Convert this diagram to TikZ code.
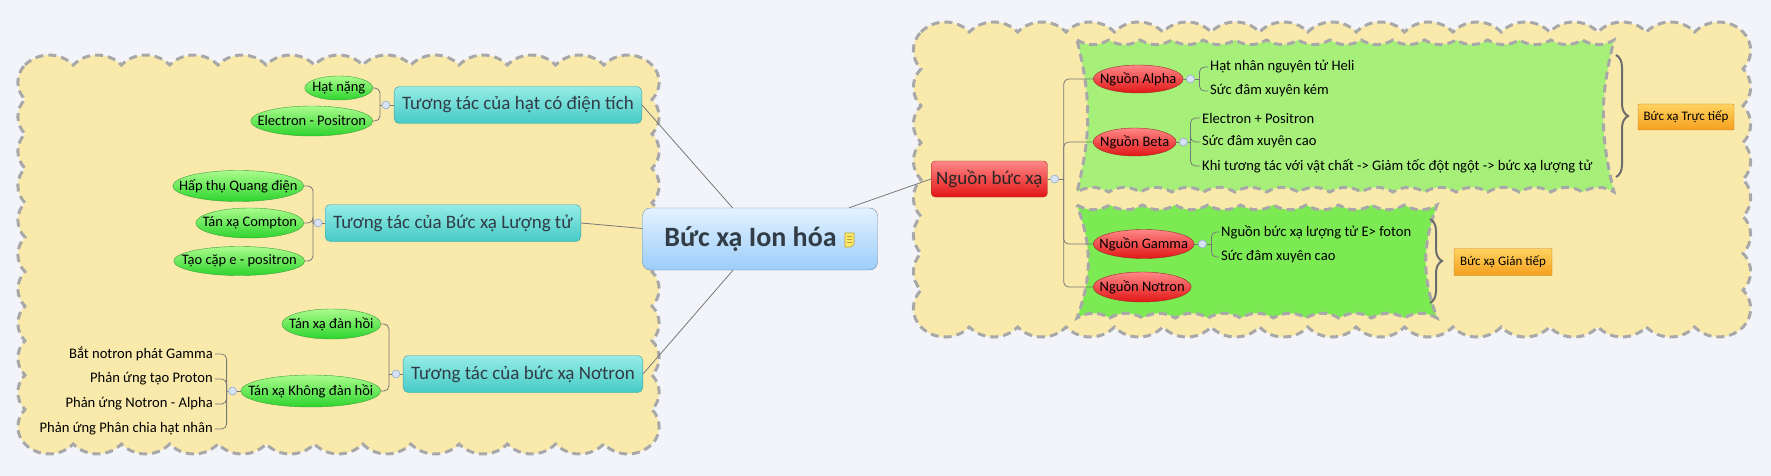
\documentclass[tikz,border=0pt]{standalone}
\usepackage{fontspec}
\setmainfont{Carlito}
\usetikzlibrary{shapes.geometric,decorations.pathreplacing}

\definecolor{bgcol}{RGB}{243,244,249}
\definecolor{sandfill}{RGB}{249,234,172}
\definecolor{dashgray}{RGB}{168,168,168}
\definecolor{greenA}{RGB}{166,240,122}
\definecolor{greenB}{RGB}{124,234,82}
\definecolor{linegray}{RGB}{120,120,120}
\definecolor{tealtop}{RGB}{150,236,230}
\definecolor{tealbot}{RGB}{70,202,198}
\definecolor{tealline}{RGB}{70,160,160}
\definecolor{redtop}{RGB}{255,135,135}
\definecolor{redbot}{RGB}{226,22,22}
\definecolor{redline}{RGB}{160,40,40}
\definecolor{ovaltop}{RGB}{170,252,140}
\definecolor{ovalbot}{RGB}{45,212,45}
\definecolor{ovalline}{RGB}{60,160,60}
\definecolor{orangetop}{RGB}{255,210,95}
\definecolor{orangebot}{RGB}{245,160,30}
\definecolor{orangeline}{RGB}{190,130,40}
\definecolor{roottop}{RGB}{228,242,255}
\definecolor{rootbot}{RGB}{155,205,250}
\definecolor{rootline}{RGB}{110,140,170}
\definecolor{inkdark}{RGB}{50,60,70}
\definecolor{btnfill}{RGB}{215,226,245}
\definecolor{btnline}{RGB}{150,170,210}
\definecolor{notefill}{RGB}{252,234,110}
\definecolor{noteline}{RGB}{190,160,40}

%% scalloped boundary: [style]{x1}{y1}{x2}{y2}{bumps across}{bumps down}{bend top/bottom}{bend sides}
\newcommand{\cloudbox}[9][]{%
  \pgfmathsetmacro\cbw{(#4-#2)/#6}%
  \pgfmathsetmacro\cbh{(#5-#3)/#7}%
  \draw[#1] (#2,#3)
    \foreach \i in {1,...,#6} { to[bend left=#8] ({#2+\i*\cbw},#3) }
    \foreach \i in {1,...,#7} { to[bend left=#9] (#4,{#3+\i*\cbh}) }
    \foreach \i in {1,...,#6} { to[bend left=#8] ({#4-\i*\cbw},#5) }
    \foreach \i in {1,...,#7} { to[bend left=#9] (#2,{#5-\i*\cbh}) }
    -- cycle;}

\begin{document}
\begin{tikzpicture}[x=1pt,y=-1pt,
        conn/.style={draw=linegray,line width=0.8pt},
        sandcloud/.style={fill=sandfill,draw=dashgray,line width=3pt,dash pattern=on 8pt off 5pt},
        tealbox/.style={draw=tealline,rounded corners=5pt,top color=tealtop,bottom color=tealbot,
            inner xsep=8pt,minimum height=37pt,text=inkdark,font=\fontsize{19}{22}\selectfont},
        redbox/.style={draw=redline,rounded corners=4pt,top color=redtop,bottom color=redbot,
            inner xsep=5pt,minimum height=36pt,text=black!85,font=\fontsize{19}{22}\selectfont},
        greenoval/.style={ellipse,draw=ovalline,top color=ovaltop,bottom color=ovalbot,inner sep=0pt,
            font=\fontsize{14.5}{16}\selectfont,
            execute at begin node={\hbox to 0pt\bgroup\hss},execute at end node={\hss\egroup}},
        redoval/.style={greenoval,draw=redline,top color=redtop,bottom color=redbot},
        orangetag/.style={draw=orangeline,rounded corners=1pt,top color=orangetop,bottom color=orangebot,
            inner sep=0pt,font=\fontsize{13}{15}\selectfont},
        leaftext/.style={inner sep=2pt,font=\fontsize{14.6}{16}\selectfont},
        togglebtn/.style={circle,draw=btnline,fill=btnfill,line width=0.6pt,inner sep=0pt,minimum size=8pt},
        bracegray/.style={draw=gray!85!black,line width=2pt,decorate,decoration={brace,amplitude=12pt}}]
        %% Background
        \fill[bgcol] (0,0) rectangle (1771,476);
        \useasboundingbox (0,0) rectangle (1771,476);
        %% Boundaries
        \cloudbox[sandcloud]{25}{65}{652}{444}{13}{11}{45}{45}
        \cloudbox[sandcloud]{921}{32}{1743}{327}{17}{8}{45}{45}
        \cloudbox[sandcloud,fill=greenA]{1077}{40}{1614}{192}{17}{1}{-30}{-14}
        \cloudbox[sandcloud,fill=greenB]{1077}{205}{1437}{318}{11}{1}{-30}{-20}
        \draw[bracegray] (1616,55) -- (1616,177);
        \draw[bracegray] (1430,219) -- (1430,303);
        %% Central topic
        \node[draw=rootline,rounded corners=8pt,top color=roottop,bottom color=rootbot,
            minimum width=235pt,minimum height=62pt,text=inkdark,
            font=\fontsize{28}{32}\selectfont\bfseries] (root) at (760,239) {Bức xạ Ion hóa\hspace{19pt}\mbox{}};
        \draw[fill=notefill,draw=noteline,line width=0.6pt] (845,233) -- (854,233) -- (854,244) -- (851,247) -- (845,247) -- cycle;
        \foreach \y in {236.5,239.5,242.5}
            \draw[noteline,line width=0.6pt] (847,\y) -- (852,\y);
        %% Left branches
        \node[tealbox,anchor=east] (hat) at (642,105) {Tương tác của hạt có điện tích};
        \node[tealbox,anchor=east] (luongtu) at (581,223) {Tương tác của Bức xạ Lượng tử};
        \node[tealbox,anchor=east] (notron) at (643,374) {Tương tác của bức xạ Nơtron};
        \draw[conn] (hat.east) -- (root);
        \draw[conn] (luongtu.east) -- (root);
        \draw[conn] (notron.east) -- (root);
        %% Charged particles
        \node[greenoval,minimum width=68pt,minimum height=24pt,anchor=east] (nang) at (373,88) {Hạt nặng};
        \node[greenoval,minimum width=122pt,minimum height=30pt,anchor=east] (electron) at (373,121) {Electron - Positron};
        \node[togglebtn] (mhat) at ([xshift=-8pt]hat.west) {};
        \coordinate (shat) at ([xshift=-14pt]hat.west);
        \draw[conn] (hat.west) -- (mhat) -- (shat);
        \draw[conn,rounded corners=5pt] (shat) |- (nang.east);
        \draw[conn,rounded corners=5pt] (shat) |- (electron.east);
        %% Quantum radiation
        \node[greenoval,minimum width=131pt,minimum height=31pt,anchor=east] (quangdien) at (304,186) {Hấp thụ Quang điện};
        \node[greenoval,minimum width=108pt,minimum height=30pt,anchor=east] (compton) at (304,223) {Tán xạ Compton};
        \node[greenoval,minimum width=131pt,minimum height=29pt,anchor=east] (capcap) at (305,261) {Tạo cặp e - positron};
        \node[togglebtn] (mluongtu) at ([xshift=-7pt]luongtu.west) {};
        \coordinate (sluongtu) at ([xshift=-12pt]luongtu.west);
        \draw[conn] (luongtu.west) -- (mluongtu) -- (sluongtu);
        \draw[conn,rounded corners=5pt] (sluongtu) |- (quangdien.east);
        \draw[conn,rounded corners=5pt] (sluongtu) |- (compton.east);
        \draw[conn,rounded corners=5pt] (sluongtu) |- (capcap.east);
        %% Neutron radiation
        \node[greenoval,minimum width=99pt,minimum height=30pt,anchor=east] (danhoi) at (381,324) {Tán xạ đàn hồi};
        \node[greenoval,minimum width=140pt,minimum height=32pt,anchor=east] (khongdh) at (381,391) {Tán xạ Không đàn hồi};
        \node[togglebtn] (mnotron) at ([xshift=-7pt]notron.west) {};
        \coordinate (snotron) at ([xshift=-14pt]notron.west);
        \draw[conn] (notron.west) -- (mnotron) -- (snotron);
        \draw[conn,rounded corners=5pt] (snotron) |- (danhoi.east);
        \draw[conn,rounded corners=5pt] (snotron) |- (khongdh.east);
        \node[leaftext,anchor=east] (batnotron) at (215,354) {Bắt notron phát Gamma};
        \node[leaftext,anchor=east] (proton) at (215,379) {Phản ứng tạo Proton};
        \node[leaftext,anchor=east] (nalpha) at (215,404) {Phản ứng Notron - Alpha};
        \node[leaftext,anchor=east] (phanchia) at (215,429) {Phản ứng Phân chia hạt nhân};
        \node[togglebtn] (mkhongdh) at ([xshift=-8pt]khongdh.west) {};
        \coordinate (skhongdh) at ([xshift=-14pt]khongdh.west);
        \draw[conn] (khongdh.west) -- (mkhongdh) -- (skhongdh);
        \foreach \leaf in {batnotron,proton,nalpha,phanchia}
            \draw[conn,rounded corners=5pt] (skhongdh) |- (\leaf.east);
        %% Right branch
        \node[redbox,anchor=west] (nguon) at (931,179) {Nguồn bức xạ};
        \draw[conn] (root) -- (nguon.west);
        \node[redoval,minimum width=90pt,minimum height=28pt,anchor=west] (alpha) at (1093,79) {Nguồn Alpha};
        \node[redoval,minimum width=83pt,minimum height=28pt,anchor=west] (beta) at (1093,142) {Nguồn Beta};
        \node[redoval,minimum width=101pt,minimum height=29pt,anchor=west] (gamma) at (1093,244) {Nguồn Gamma};
        \node[redoval,minimum width=98pt,minimum height=30pt,anchor=west] (ntron) at (1093,287) {Nguồn Nơtron};
        \node[togglebtn] (mnguon) at ([xshift=7pt]nguon.east) {};
        \coordinate (snguon) at ([xshift=16pt]nguon.east);
        \draw[conn] (nguon.east) -- (mnguon) -- (snguon);
        \foreach \src in {alpha,beta,gamma,ntron}
            \draw[conn,rounded corners=5pt] (snguon) |- (\src.west);
        %% Alpha
        \node[leaftext,anchor=west] (heli) at (1208,67) {Hạt nhân nguyên tử Heli};
        \node[leaftext,anchor=west] (kem) at (1208,91) {Sức đâm xuyên kém};
        \node[togglebtn] (malpha) at ([xshift=7pt]alpha.east) {};
        \coordinate (salpha) at ([xshift=16pt]alpha.east);
        \draw[conn] (alpha.east) -- (malpha) -- (salpha);
        \draw[conn,rounded corners=5pt] (salpha) |- (heli.west);
        \draw[conn,rounded corners=5pt] (salpha) |- (kem.west);
        %% Beta
        \node[leaftext,anchor=west] (epos) at (1200,118) {Electron + Positron};
        \node[leaftext,anchor=west] (caob) at (1200,142) {Sức đâm xuyên cao};
        \node[leaftext,anchor=west] (giamtoc) at (1200,166) {Khi tương tác với vật chất -> Giảm tốc đột ngột -> bức xạ lượng tử};
        \node[togglebtn] (mbeta) at ([xshift=7pt]beta.east) {};
        \coordinate (sbeta) at ([xshift=14pt]beta.east);
        \draw[conn] (beta.east) -- (mbeta) -- (sbeta);
        \foreach \leaf in {epos,caob,giamtoc}
            \draw[conn,rounded corners=5pt] (sbeta) |- (\leaf.west);
        %% Gamma
        \node[leaftext,anchor=west] (foton) at (1219,232) {Nguồn bức xạ lượng tử E> foton};
        \node[leaftext,anchor=west] (caog) at (1219,257) {Sức đâm xuyên cao};
        \node[togglebtn] (mgamma) at ([xshift=8pt]gamma.east) {};
        \coordinate (sgamma) at ([xshift=17pt]gamma.east);
        \draw[conn] (gamma.east) -- (mgamma) -- (sgamma);
        \draw[conn,rounded corners=5pt] (sgamma) |- (foton.west);
        \draw[conn,rounded corners=5pt] (sgamma) |- (caog.west);
        %% Summaries
        \node[orangetag,minimum width=96pt,minimum height=26pt] (tructiep) at (1686,117) {Bức xạ Trực tiếp};
        \node[orangetag,minimum width=98pt,minimum height=27pt] (giantiep) at (1503,262) {Bức xạ Gián tiếp};
    \end{tikzpicture}
\end{document}
